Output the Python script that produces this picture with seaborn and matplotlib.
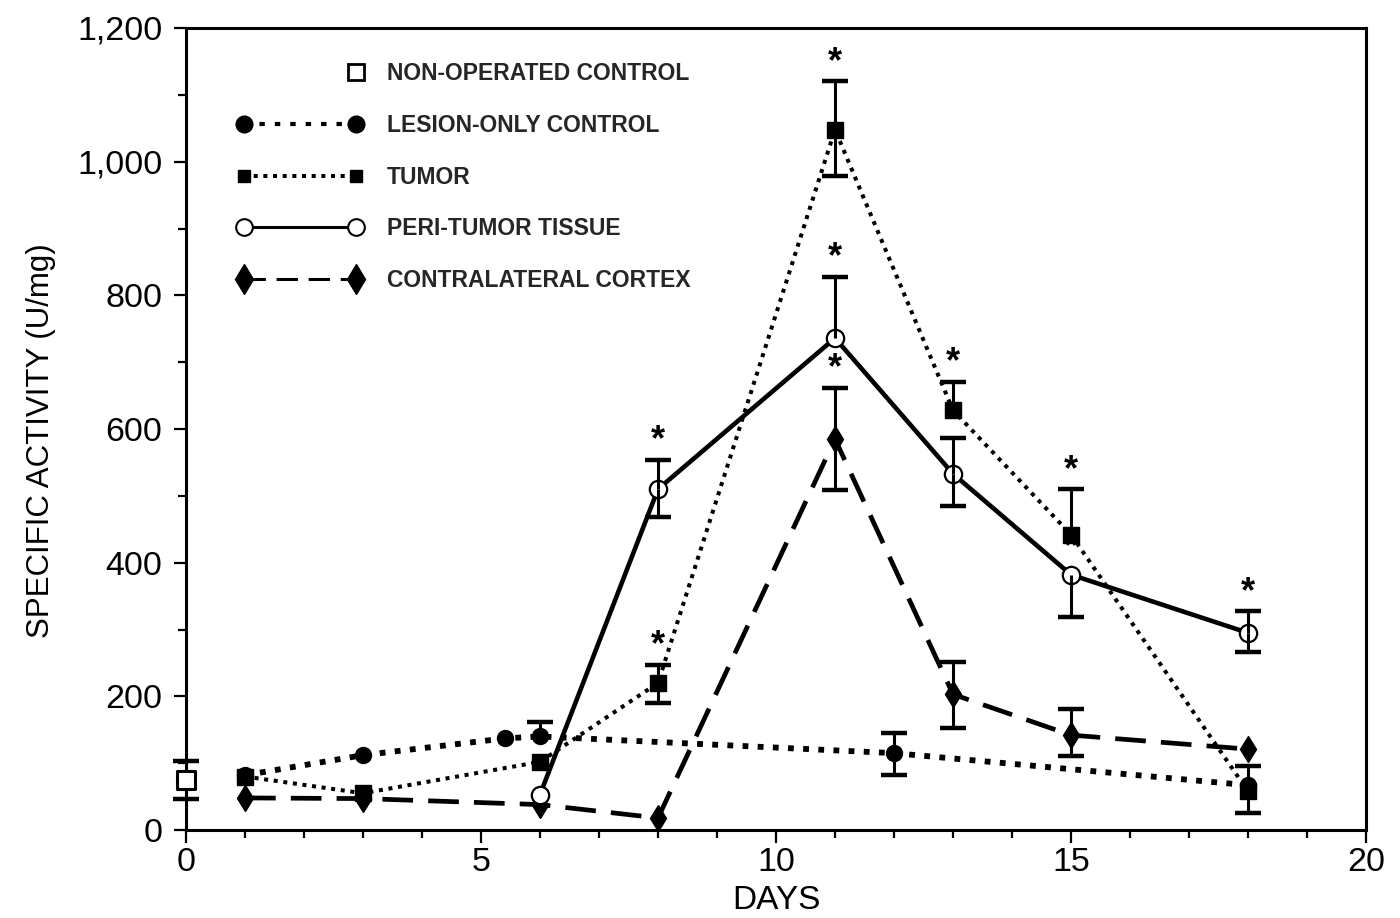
import numpy as np
import pandas as pd
import matplotlib
matplotlib.use("Agg")
import matplotlib.pyplot as plt
from matplotlib.lines import Line2D
from matplotlib.legend_handler import HandlerLine2D
from matplotlib.ticker import MultipleLocator, FuncFormatter
import seaborn as sns

# ---------------- data ----------------
nonop_days = [0]
nonop_vals = [75]
nonop_lo = [28]
nonop_hi = [28]

lesion_days = [1, 3, 5.4, 6, 12, 18]
lesion_vals = [82, 112, 137, 140, 115, 67]
lesion_lo = [np.nan, np.nan, np.nan, np.nan, 32, np.nan]
lesion_hi = [np.nan, np.nan, np.nan, 22, 30, np.nan]
lesion_star = [False, False, False, False, False, False]

tumor_days = [1, 3, 6, 8, 11, 13, 15, 18]
tumor_vals = [80, 55, 102, 220, 1048, 628, 442, 58]
tumor_lo = [np.nan, np.nan, np.nan, 30, 70, np.nan, np.nan, 32]
tumor_hi = [np.nan, np.nan, np.nan, 27, 72, 43, 68, 38]
tumor_star = [False, False, False, True, True, True, True, False]

peri_days = [6, 8, 11, 13, 15, 18]
peri_vals = [53, 510, 736, 533, 382, 295]
peri_lo = [np.nan, 42, np.nan, 48, 64, 28]
peri_hi = [np.nan, 44, 92, 53, np.nan, 32]
peri_star = [False, True, True, True, True, True]

contra_days = [1, 3, 6, 8, 11, 13, 15, 18]
contra_vals = [48, 47, 38, 18, 585, 203, 142, 121]
contra_lo = [np.nan, np.nan, np.nan, np.nan, 77, 50, 32, np.nan]
contra_hi = [np.nan, np.nan, np.nan, np.nan, 77, 48, 39, np.nan]
contra_star = [False, False, False, False, True, False, False, False]

labels = ["NON-OPERATED CONTROL", "LESION-ONLY CONTROL", "TUMOR",
          "PERI-TUMOR TISSUE", "CONTRALATERAL CORTEX"]

# ---------------- style ----------------
sns.set_theme(style="white")
plt.rcParams["font.family"] = ["Liberation Sans", "DejaVu Sans"]

fig = plt.figure(figsize=(14, 9.18), dpi=100)
ax = fig.add_axes([186 / 1400, 88 / 918, 1180 / 1400, 802 / 918])

K = "black"

styles = {
    "lesion": dict(ls=(0, (1.0, 1.6)), lw=4.2, marker="o", ms=11.5, mfc=K, mec=K),
    "tumor": dict(ls=(0, (1.0, 1.4)), lw=2.9, marker="s", ms=11, mfc=K, mec=K),
    "peri": dict(ls="-", lw=3.3, marker="o", ms=12.5, mfc="white", mec=K, mew=1.6),
    "contra": dict(ls=(0, (6.5, 3.2)), lw=3.4, marker="d", ms=13, mfc=K, mec=K),
}

series = [
    ("lesion", lesion_days, lesion_vals, lesion_lo, lesion_hi, lesion_star, 3),
    ("tumor", tumor_days, tumor_vals, tumor_lo, tumor_hi, tumor_star, 4),
    ("contra", contra_days, contra_vals, contra_lo, contra_hi, contra_star, 3),
    ("peri", peri_days, peri_vals, peri_lo, peri_hi, peri_star, 5),
]


def draw_err(days, vals, lo, hi, stars, z):
    d = np.asarray(days, float)
    v = np.asarray(vals, float)
    lo = np.asarray(lo, float)
    hi = np.asarray(hi, float)
    for err, sign in ((hi, 1), (lo, -1)):
        m = np.isfinite(err)
        if m.any():
            end = v[m] + sign * err[m]
            ax.vlines(d[m], v[m], end, colors=K, lw=2.2, zorder=z)
            ax.plot(d[m], end, ls="none", marker="_", ms=19, mew=3.2,
                    color=K, zorder=z, clip_on=False)
    for i, s in enumerate(stars):
        if s:
            top = v[i] + (hi[i] if np.isfinite(hi[i]) else 12)
            ax.annotate("*", (d[i], top), xytext=(0, 1), textcoords="offset points",
                        ha="center", va="bottom", fontsize=26, fontweight="bold",
                        color=K, zorder=z + 1)


for name, days, vals, lo, hi, stars, z in series:
    df = pd.DataFrame({"day": days, "val": vals})
    st = styles[name]
    sns.lineplot(data=df, x="day", y="val", ax=ax, color=K, linestyle=st["ls"],
                 linewidth=st["lw"], marker=st["marker"], markersize=st["ms"],
                 markerfacecolor=st["mfc"], markeredgecolor=st["mec"],
                 markeredgewidth=st.get("mew", 1), zorder=z, clip_on=False)
    draw_err(days, vals, lo, hi, stars, z)

# non-operated control
ndf = pd.DataFrame({"day": nonop_days, "val": nonop_vals})
sns.scatterplot(data=ndf, x="day", y="val", ax=ax, marker="s", s=170,
                facecolor="white", edgecolor=K, linewidth=2.2, zorder=6, clip_on=False)
draw_err(nonop_days, nonop_vals, nonop_lo, nonop_hi, [False], 5)

# ---------------- axes ----------------
ax.set_xlim(0, 20)
ax.set_ylim(0, 1200)
ax.xaxis.set_major_locator(MultipleLocator(5))
ax.xaxis.set_minor_locator(MultipleLocator(1))
ax.yaxis.set_major_locator(MultipleLocator(200))
ax.yaxis.set_minor_locator(MultipleLocator(100))
ax.yaxis.set_major_formatter(FuncFormatter(lambda v, p: f"{int(v):,}"))
ax.tick_params(which="both", direction="out", width=1.6, colors=K,
               labelsize=24.5, bottom=True, left=True)
ax.tick_params(which="major", length=9)
ax.tick_params(axis="y", which="major", pad=8)
ax.tick_params(axis="x", which="major", pad=3)
ax.tick_params(which="minor", length=6)
for sp in ax.spines.values():
    sp.set_visible(True)
    sp.set_color(K)
    sp.set_linewidth(2.2)
ax.set_xlabel("DAYS", fontsize=24, color=K, labelpad=5)
ax.set_ylabel("SPECIFIC ACTIVITY (U/mg)", fontsize=22.5, color=K)
ax.yaxis.set_label_coords(-0.110, 0.485)
ax.grid(False)


# ---------------- legend ----------------
class RightMarkerHandler(HandlerLine2D):
    def create_artists(self, *args, **kwargs):
        arts = super().create_artists(*args, **kwargs)
        for a in arts:
            if a.get_marker() not in (None, "None", "none", ""):
                a.set_markevery([1])
        return arts


handles = [
    Line2D([0, 1], [0, 0], ls="none", marker="s", ms=11, mfc="white", mec=K,
           mew=2, color=K),
    Line2D([0, 1], [0, 0], color=K, ls=(0, (1.3, 2.4)), lw=3.0, marker="o",
           ms=12, mfc=K, mec=K),
    Line2D([0, 1], [0, 0], color=K, ls=(0, (1.0, 1.4)), lw=2.9, marker="s",
           ms=9, mfc=K, mec=K),
    Line2D([0, 1], [0, 0], color=K, ls="-", lw=2.2, marker="o", ms=12,
           mfc="white", mec=K, mew=1.5),
    Line2D([0, 1], [0, 0], color=K, ls=(0, (7, 3.5)), lw=2.2, marker="d",
           ms=15, mfc=K, mec=K),
]
leg = ax.legend(handles, labels, loc="upper left", bbox_to_anchor=(0.043, 0.957),
                frameon=False, fontsize=16.5, numpoints=2, handlelength=5.5,
                handletextpad=1.05, labelspacing=1.25, borderpad=0, borderaxespad=0,
                handler_map={handles[0]: RightMarkerHandler()})
for t in leg.get_texts():
    t.set_fontweight("semibold")

fig.savefig("out.png", dpi=100, facecolor="white")
